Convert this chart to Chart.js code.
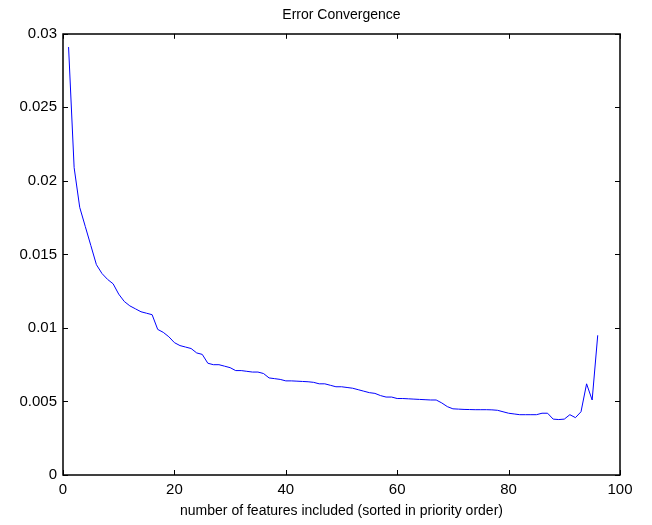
<!DOCTYPE html>
<html>
<head>
<meta charset="utf-8">
<script src="https://cdn.jsdelivr.net/npm/chart.js@4"></script>
<style>
  html, body { margin: 0; padding: 0; background: #fff; }
  canvas { display: block; }
</style>
</head>
<body>
<canvas id="grafico" width="652" height="525"></canvas>
<script>
// Datos
const features = [
   1,  2,  3,  4,  5,  6,  7,  8,  9, 10, 11, 12, 13, 14, 15, 16,
  17, 18, 19, 20, 21, 22, 23, 24, 25, 26, 27, 28, 29, 30, 31, 32,
  33, 34, 35, 36, 37, 38, 39, 40, 41, 42, 43, 44, 45, 46, 47, 48,
  49, 50, 51, 52, 53, 54, 55, 56, 57, 58, 59, 60, 61, 62, 63, 64,
  65, 66, 67, 68, 69, 70, 71, 72, 73, 74, 75, 76, 77, 78, 79, 80,
  81, 82, 83, 84, 85, 86, 87, 88, 89, 90, 91, 92, 93, 94, 95, 96
];
const errorValues = [
  0.0291, 0.0209, 0.0182, 0.0169, 0.0156, 0.0143, 0.0137, 0.0133,
  0.0130, 0.0123, 0.0118, 0.0115, 0.0113, 0.0111, 0.0110, 0.0109,
  0.0099, 0.0097, 0.0094, 0.0090, 0.0088, 0.0087, 0.0086, 0.0083,
  0.0082, 0.0076, 0.0075, 0.0075, 0.0074, 0.0073, 0.0071, 0.0071,
  0.00705, 0.0070, 0.0070, 0.0069, 0.0066, 0.00655, 0.0065, 0.0064,
  0.0064, 0.00638, 0.00636, 0.00634, 0.0063, 0.0062, 0.0062, 0.0061,
  0.0060, 0.0060, 0.00595, 0.0059, 0.0058, 0.0057, 0.0056, 0.00555,
  0.0054, 0.0053, 0.0053, 0.0052, 0.0052, 0.00518, 0.00516, 0.00514,
  0.00512, 0.0051, 0.0051, 0.0049, 0.00465, 0.0045, 0.00448, 0.00446,
  0.00445, 0.00444, 0.00444, 0.00444, 0.00443, 0.0044, 0.0043, 0.0042,
  0.00415, 0.0041, 0.0041, 0.0041, 0.0041, 0.0042, 0.0042, 0.0038,
  0.00377, 0.0038, 0.0041, 0.0039, 0.0043, 0.0062, 0.0051, 0.0095
];
const xTicks = [0, 20, 40, 60, 80, 100];
const yTicks = [0, 0.005, 0.01, 0.015, 0.02, 0.025, 0.03];

const fuente = "'Liberation Sans', Arial, Helvetica, sans-serif";

// Marco y marcas hacia adentro, estilo MATLAB
const marcoEjes = {
  id: 'marcoEjes',
  afterDatasetsDraw(chart) {
    const { ctx, chartArea: a, scales: { x, y } } = chart;
    const largo = 5;
    ctx.save();
    ctx.strokeStyle = '#000';
    ctx.lineWidth = 1;
    ctx.beginPath();
    xTicks.forEach(v => {
      const px = Math.round(x.getPixelForValue(v)) + 0.5;
      ctx.moveTo(px, a.bottom); ctx.lineTo(px, a.bottom - largo);
      ctx.moveTo(px, a.top); ctx.lineTo(px, a.top + largo);
    });
    yTicks.forEach(v => {
      const py = Math.round(y.getPixelForValue(v)) + 0.5;
      ctx.moveTo(a.left, py); ctx.lineTo(a.left + largo, py);
      ctx.moveTo(a.right, py); ctx.lineTo(a.right - largo, py);
    });
    ctx.stroke();
    ctx.lineWidth = 1.5;
    ctx.strokeRect(Math.round(a.left), Math.round(a.top),
      Math.round(a.right - a.left), Math.round(a.bottom - a.top));
    ctx.restore();
  }
};

new Chart(document.getElementById('grafico').getContext('2d'), {
  type: 'line',
  data: {
    labels: features,
    datasets: [{
      data: features.map((f, i) => ({ x: f, y: errorValues[i] })),
      borderColor: '#0000ff',
      borderWidth: 1,
      pointRadius: 0,
      tension: 0,
      fill: false
    }]
  },
  options: {
    responsive: false,
    animation: false,
    layout: { padding: { left: 0, right: 32, top: 0, bottom: 0 } },
    plugins: {
      legend: { display: false },
      tooltip: { enabled: false },
      title: {
        display: true,
        fullSize: false,
        text: 'Error Convergence',
        color: '#000',
        font: { family: fuente, size: 14, weight: 'normal' },
        padding: { top: 7, bottom: 10 }
      }
    },
    scales: {
      x: {
        type: 'linear',
        min: 0,
        max: 100,
        afterBuildTicks: s => { s.ticks = xTicks.map(v => ({ value: v })); },
        afterFit: s => { s.height = 50; },
        grid: { display: false, drawTicks: false },
        border: { display: false },
        ticks: {
          color: '#000',
          font: { family: fuente, size: 15 },
          padding: 6,
          maxRotation: 0,
          callback: v => String(v)
        },
        title: {
          display: true,
          text: 'number of features included (sorted in priority order)',
          color: '#000',
          font: { family: fuente, size: 14 },
          padding: { top: 0, bottom: 5 }
        }
      },
      y: {
        type: 'linear',
        min: 0,
        max: 0.03,
        afterBuildTicks: s => { s.ticks = yTicks.map(v => ({ value: v })); },
        afterFit: s => { s.width = 63; },
        grid: { display: false, drawTicks: false },
        border: { display: false },
        ticks: {
          color: '#000',
          font: { family: fuente, size: 15 },
          padding: 6,
          callback: v => String(Number(v.toFixed(3)))
        }
      }
    }
  },
  plugins: [marcoEjes]
});
</script>
</body>
</html>
